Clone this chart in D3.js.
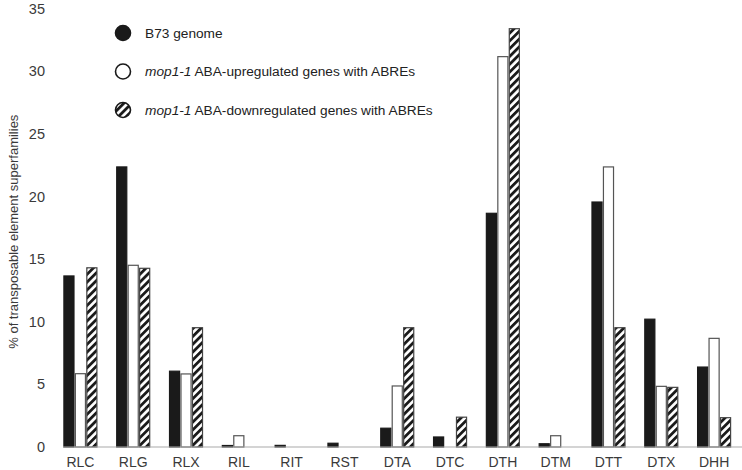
<!DOCTYPE html>
<html>
<head>
<meta charset="utf-8">
<script src="https://cdn.jsdelivr.net/npm/d3@7"></script>
<style>
  body { margin: 0; background: #fff; }
  text { font-family: 'Liberation Sans', Arial, sans-serif; }
</style>
</head>
<body>
<div id="chart"></div>
<script>
// TE superfamilies
const categories = ['RLC', 'RLG', 'RLX', 'RIL', 'RIT', 'RST', 'DTA', 'DTC', 'DTH', 'DTM', 'DTT', 'DTX', 'DHH'];
const seriesKeys = ['genome', 'up', 'down'];
const genomeValues = [13.65, 22.35, 6.05, 0.12, 0.13, 0.3, 1.5, 0.8, 18.65, 0.26, 19.55, 10.2, 6.38];
const upValues = [5.85, 14.5, 5.83, 0.9, 0, 0, 4.87, 0, 31.15, 0.9, 22.35, 4.84, 8.67];
const downValues = [14.3, 14.26, 9.52, 0, 0, 0, 9.52, 2.38, 33.38, 0, 9.52, 4.76, 2.34];
const yTicks = [0, 5, 10, 15, 20, 25, 30, 35];

const width = 742, height = 470;
const baseY = 447, topY = 8.4;

const svg = d3.select('#chart').append('svg')
  .attr('width', width)
  .attr('height', height);

const defs = svg.append('defs');
const pat = defs.append('pattern')
  .attr('id', 'hatch')
  .attr('patternUnits', 'userSpaceOnUse')
  .attr('width', 5.5)
  .attr('height', 5.5)
  .attr('patternTransform', 'rotate(45)');
pat.append('rect').attr('width', 5.5).attr('height', 5.5).attr('fill', '#fff');
pat.append('rect').attr('width', 2.8).attr('height', 5.5).attr('fill', '#1a1a1a');

const data = categories.map((c, i) => ({
  cat: c,
  genome: genomeValues[i],
  up: upValues[i],
  down: downValues[i]
}));

const x0 = d3.scaleBand()
  .domain(categories)
  .range([54, 740.5])
  .paddingInner(0.375)
  .paddingOuter(0.1875);

const x1 = d3.scaleBand()
  .domain(seriesKeys)
  .range([0, x0.bandwidth()])
  .paddingInner(0.12);

const y = d3.scaleLinear()
  .domain([0, 35])
  .range([baseY, topY]);

const fills = { genome: '#1a1a1a', up: '#fff', down: 'url(#hatch)' };
const strokes = { genome: '#1a1a1a', up: '#555', down: '#444' };

// y tick labels only, no axis line
const yAxisG = svg.append('g')
  .attr('transform', 'translate(45,0)')
  .call(d3.axisLeft(y).tickValues(yTicks).tickSize(0).tickPadding(0));
yAxisG.select('.domain').remove();
yAxisG.selectAll('text')
  .style('font-size', '14.5px')
  .style('fill', '#3a3a3a');

svg.append('text')
  .attr('transform', `translate(18,${(baseY + topY) / 2 + 4}) rotate(-90)`)
  .attr('text-anchor', 'middle')
  .style('font-size', '13px')
  .style('fill', '#3a3a3a')
  .text('% of transposable element superfamilies');

// bars
const groups = svg.append('g').classed('bars', true)
  .selectAll('g')
  .data(data)
  .join('g')
  .attr('transform', d => `translate(${x0(d.cat)},0)`);

groups.selectAll('rect')
  .data(d => seriesKeys.map(k => ({ key: k, value: d[k] })).filter(e => e.value > 0))
  .join('rect')
  .attr('x', d => x1(d.key))
  .attr('width', x1.bandwidth())
  .attr('y', d => y(d.value))
  .attr('height', d => y(0) - y(d.value))
  .attr('fill', d => fills[d.key])
  .attr('stroke', d => strokes[d.key])
  .attr('stroke-width', 1.2);

// x axis
const xAxisG = svg.append('g')
  .attr('transform', `translate(0,${baseY})`)
  .call(d3.axisBottom(x0).tickSize(0).tickPadding(10));
xAxisG.select('.domain').remove();
xAxisG.selectAll('text')
  .style('font-size', '14px')
  .style('fill', '#3a3a3a');

svg.append('line')
  .attr('x1', 63).attr('x2', width)
  .attr('y1', baseY).attr('y2', baseY)
  .attr('stroke', '#aaa')
  .attr('stroke-width', 1.2);

// legend
const legendItems = [
  { key: 'genome', italic: '', rest: 'B73 genome' },
  { key: 'up', italic: 'mop1-1', rest: ' ABA-upregulated genes with ABREs' },
  { key: 'down', italic: 'mop1-1', rest: ' ABA-downregulated genes with ABREs' }
];
const legend = svg.append('g')
  .selectAll('g')
  .data(legendItems)
  .join('g')
  .attr('transform', (d, i) => `translate(123,${33 + i * 38.5})`);

legend.append('circle')
  .attr('r', 7.5)
  .attr('fill', d => fills[d.key])
  .attr('stroke', '#1a1a1a')
  .attr('stroke-width', 1.6);

const lt = legend.append('text')
  .attr('x', 22)
  .attr('dy', '0.35em')
  .style('font-size', '13.7px')
  .style('fill', '#222');
lt.append('tspan').style('font-style', 'italic').text(d => d.italic);
lt.append('tspan').text(d => d.rest);
</script>
</body>
</html>
